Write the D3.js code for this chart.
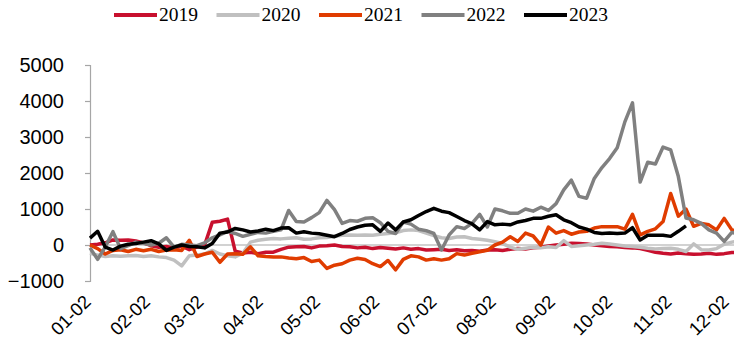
<!DOCTYPE html>
<html><head><meta charset="utf-8">
<script src="https://cdn.jsdelivr.net/npm/d3@7"></script>
<style>html,body{margin:0;padding:0;background:#fff;}svg{display:block;}</style>
</head><body>
<svg id="chart" width="734" height="344"></svg>
<script>
const dates = ["01-02","01-06","01-10","01-14","01-18","01-22","01-26","01-30","02-03","02-07","02-11","02-15","02-19","02-23","02-27","03-03","03-07","03-11","03-15","03-19","03-23","03-27","03-31","04-04","04-08","04-12","04-16","04-20","04-24","04-28","05-02","05-06","05-10","05-14","05-18","05-22","05-26","05-30","06-03","06-07","06-11","06-15","06-19","06-23","06-27","07-01","07-05","07-09","07-13","07-17","07-21","07-25","07-29","08-02","08-06","08-10","08-14","08-18","08-22","08-26","08-30","09-03","09-07","09-11","09-15","09-19","09-23","09-27","10-01","10-05","10-09","10-13","10-17","10-21","10-25","10-29","11-02","11-06","11-10","11-14","11-18","11-22","11-26","11-30","12-04","12-08"];

const s2019 = [0,20,60,140,130,140,110,60,-20,-60,-40,-90,-30,-130,-60,0,630,660,720,-170,-220,-200,-240,-200,-200,-120,-60,-50,-40,-80,-30,-20,0,-40,-50,-80,-60,-100,-70,-90,-110,-80,-120,-100,-140,-130,-120,-150,-130,-160,-150,-170,-140,-130,-150,-120,-100,-110,-80,-60,-30,0,20,50,40,30,0,-20,-40,-50,-70,-80,-100,-150,-200,-230,-250,-220,-240,-260,-250,-230,-260,-240,-210,-200];
const s2020 = [-230,-280,-320,-300,-310,-300,-290,-320,-300,-330,-350,-420,-580,-300,-280,-250,-150,-250,-300,-330,-230,80,130,160,180,170,190,200,160,170,200,210,240,270,280,270,280,270,300,320,340,400,420,400,330,260,200,180,220,230,180,160,130,90,40,-60,-120,-90,-60,-80,-50,-70,120,-40,-20,0,20,50,30,0,-30,-40,-60,-90,-110,-100,-90,-120,-180,30,-130,-140,-100,20,80,120];
const s2021 = [0,-100,-250,-150,-130,-180,-120,-160,-120,-180,-140,-130,-150,130,-320,-250,-200,-480,-250,-240,-260,-50,-300,-320,-330,-330,-360,-380,-350,-460,-420,-650,-560,-520,-420,-370,-400,-520,-600,-430,-690,-400,-300,-330,-420,-380,-420,-380,-240,-280,-230,-190,-150,0,80,230,100,330,250,0,500,330,400,300,360,380,470,510,510,510,440,850,280,380,450,650,1430,800,1000,520,600,560,420,740,420,380];
const s2022 = [-80,-400,-50,370,-100,-20,80,50,0,50,200,-60,20,0,-20,60,200,280,380,320,240,300,350,330,380,420,960,650,640,760,900,1240,980,600,680,660,740,760,620,380,320,640,580,440,400,320,-140,280,510,460,600,850,500,1000,950,880,880,1000,940,1050,960,1150,1530,1800,1350,1300,1850,2150,2400,2700,3420,3950,1750,2300,2250,2720,2640,1900,750,700,600,420,330,100,350,300];
const s2023 = [190,380,-60,-140,-30,20,40,80,120,30,-150,-60,0,-40,-50,-80,40,330,360,460,420,360,390,440,400,470,480,330,370,330,310,270,230,320,430,500,550,560,380,610,420,640,700,820,930,1020,940,900,790,680,590,420,650,560,580,560,640,680,740,740,800,840,700,620,500,440,350,320,330,320,330,480,140,270,270,270,240,380,530,null,null,null,null,null,null,null];

const seriesNames = ["2019","2020","2021","2022","2023"];
const seriesColors = ["#C8102E","#C0C0C0","#E03C00","#808080","#000000"];
const yTicks = [-1000,0,1000,2000,3000,4000,5000];
const xTickLabels = ["01-02","02-02","03-02","04-02","05-02","06-02","07-02","08-02","09-02","10-02","11-02","12-02"];

const allSeries = [s2019,s2020,s2021,s2022,s2023];
const parse = d3.timeParse("%m-%d");
const svg = d3.select("#chart");

const x = d3.scaleTime().domain([parse("01-02"), parse("12-02")]).range([90, 728]);
const y = d3.scaleLinear().domain([-1000, 5000]).range([281, 65]);

// zero line
svg.append("line").attr("x1", 90).attr("x2", 734).attr("y1", y(0)).attr("y2", y(0))
  .attr("stroke", "#a6a6a6").attr("stroke-width", 1.2);

// y axis
const yAxis = svg.append("g").attr("transform", "translate(90,0)")
  .call(d3.axisLeft(y).tickValues(yTicks).tickSize(5).tickPadding(21).tickFormat(d3.format("d")));
yAxis.select(".domain").attr("stroke", "#a6a6a6").attr("stroke-width", 1.2);
yAxis.selectAll(".tick line").attr("stroke", "#a6a6a6").attr("stroke-width", 1.2);
yAxis.selectAll("text").attr("font-family", "Liberation Sans, Arial, sans-serif")
  .attr("font-size", 20).attr("fill", "#000");

// x labels
svg.append("g").selectAll("text").data(xTickLabels).join("text")
  .attr("transform", d => `translate(${x(parse(d)) + 2},${303}) rotate(-45)`)
  .attr("text-anchor", "end")
  .attr("font-family", "Liberation Sans, Arial, sans-serif")
  .attr("font-size", 18.5).attr("fill", "#000")
  .text(d => d);

// lines
const line = d3.line()
  .defined(d => d.v !== null)
  .x(d => x(parse(d.date)))
  .y(d => y(d.v));

allSeries.forEach((s, i) => {
  const data = dates.map((dt, j) => ({date: dt, v: s[j] === undefined ? null : s[j]}));
  svg.append("path").datum(data)
    .attr("fill", "none")
    .attr("stroke", seriesColors[i])
    .attr("stroke-width", 3.5)
    .attr("stroke-linejoin", "round")
    .attr("d", line);
});

// legend
const legend = svg.append("g");
seriesNames.forEach((n, i) => {
  const lx = 114 + i * 102.5;
  legend.append("line").attr("x1", lx).attr("x2", lx + 43).attr("y1", 15).attr("y2", 15)
    .attr("stroke", seriesColors[i]).attr("stroke-width", 4);
  legend.append("text").attr("x", lx + 45).attr("y", 21)
    .attr("font-family", "Liberation Serif, Times New Roman, serif")
    .attr("font-size", 19.5).attr("fill", "#000").text(n);
});
</script>
</body></html>
